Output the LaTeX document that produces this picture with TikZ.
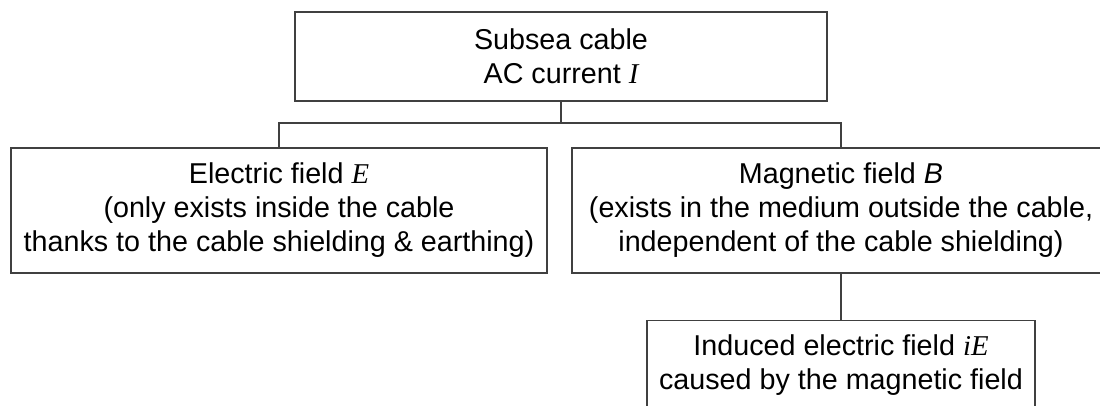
\documentclass[tikz,border=0pt]{standalone}
\usepackage{fontspec}
\setmainfont{Liberation Sans}
\newfontfamily\timesfont{Liberation Serif}
\newcommand{\sym}[1]{{\timesfont\itshape #1}}
\tikzstyle{blk}=[rectangle,draw=black!75,line width=1.8pt,align=center,inner sep=0pt,font=\fontsize{28.7}{34}\selectfont]
\tikzstyle{link}=[draw=black!75,line width=1.8pt]

\begin{document}
\begin{tikzpicture}[x=1pt,y=-1pt]
\clip (0,0) rectangle (1100,406);
\node[blk,minimum width=532pt,minimum height=89pt] (cable) at (561,56.5) {Subsea cable\\AC current \sym{I}};
\node[blk,minimum width=536pt,minimum height=125pt] (efield) at (279,210.5) {Electric field \sym{E}\\(only exists inside the cable\\thanks to the cable shielding \& earthing)};
\node[blk,minimum width=538pt,minimum height=125pt] (bfield) at (841,210.5) {Magnetic field \textit{B}\\(exists in the medium outside the cable,\\independent of the cable shielding)};
\node[blk,minimum width=388pt,minimum height=89pt] (ifield) at (841,365) {Induced electric field \sym{iE}\\caused by the magnetic field};
\coordinate (split) at (561,123);
% tree connectors
\draw[link] (cable.south) -- (split);
\draw[link] (efield.north) |- (split) -| (bfield.north);
\draw[link] (bfield.south) -- (ifield.north);
\end{tikzpicture}
\end{document}
